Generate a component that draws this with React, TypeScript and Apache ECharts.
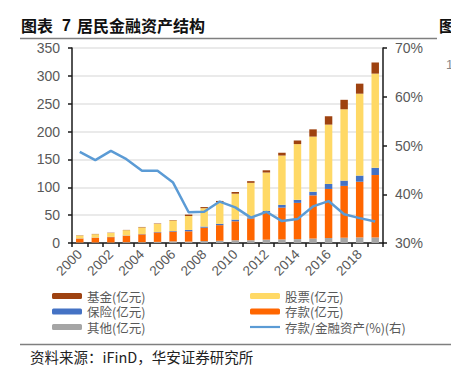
import React, { useEffect, useRef } from "react";
import * as echarts from "echarts";

const years = ["2000","2001","2002","2003","2004","2005","2006","2007","2008","2009","2010","2011","2012","2013","2014","2015","2016","2017","2018","2019"];
const other = [1, 1, 1, 1.5, 1.5, 2, 3, 2.5, 3.5, 4, 5, 5, 6, 6.5, 7, 8, 9, 9.5, 10, 10];
const deposit = [7, 8.5, 9.5, 11.5, 14, 17, 17.5, 18.5, 24, 28, 34, 39, 48.5, 57, 65, 77.5, 88, 93, 100, 112];
const insurance = [0.3, 0.3, 0.5, 0.5, 0.5, 0.8, 1, 2.5, 2, 2.5, 3, 2, 3, 5, 5.5, 6.5, 9, 9.5, 11, 13];
const stock = [5, 6, 7, 9.5, 12, 14.5, 19, 25, 33, 38.5, 46.5, 62, 69, 88.5, 100, 99, 106.5, 128, 147, 169];
const fund = [0.5, 0.5, 0.5, 0.5, 0.8, 0.7, 0.8, 2.5, 2, 2.5, 3, 3, 4, 5, 6.5, 13, 15, 17, 18, 20];
const depositRatio = [48.7, 47.0, 48.9, 47.2, 44.8, 44.8, 42.4, 36.3, 36.4, 38.5, 37.3, 35.2, 36.4, 34.5, 34.9, 37.5, 38.6, 35.9, 35.1, 34.4];
const leftTicks = { min: 0, max: 350, interval: 50 };
const rightTicks = { min: 30, max: 70, interval: 10 };

const CJK = "'Noto Sans CJK SC', sans-serif";
const SANS = "'Liberation Sans', Arial, sans-serif";
const LINE_ICON = "path://M0,0 L30,0 L30,2.2 L0,2.2 Z";

export default function App() {
  const ref = useRef<HTMLDivElement>(null);
  useEffect(() => {
    if (!ref.current) return;
    const chart = echarts.init(ref.current, null, { renderer: "svg" });
    const barBase = { type: "bar", stack: "total", barWidth: "48%", yAxisIndex: 0 };
    const legendText = { fontFamily: CJK, fontSize: 12.5, color: "#595959", lineHeight: 15 };
    chart.setOption({
      animation: false,
      backgroundColor: "#ffffff",
      textStyle: { fontFamily: SANS },
      grid: { left: 72, right: 68, top: 48, bottom: 123 },
      legend: [
        {
          orient: "vertical",
          left: 52,
          top: 288.5,
          padding: 0,
          itemWidth: 30,
          itemHeight: 6,
          itemGap: 0.5,
          textStyle: legendText,
          data: ["基金(亿元)", "保险(亿元)", "其他(亿元)"],
        },
        {
          orient: "vertical",
          left: 250,
          top: 288.5,
          padding: 0,
          itemWidth: 30,
          itemHeight: 6,
          itemGap: 0.5,
          textStyle: legendText,
          data: ["股票(亿元)", "存款(亿元)", { name: "存款/金融资产(%)(右)", icon: LINE_ICON }],
        },
      ],
      xAxis: {
        type: "category",
        data: years,
        boundaryGap: true,
        axisLine: { lineStyle: { color: "#1a1a1a", width: 1.5 } },
        axisTick: { show: true, interval: 0, length: 4, lineStyle: { color: "#1a1a1a", width: 1.5 } },
        axisLabel: { interval: 1, rotate: 45, fontSize: 13.5, color: "#595959", margin: 9, fontFamily: SANS },
      },
      yAxis: [
        {
          type: "value",
          ...leftTicks,
          axisLine: { show: true, lineStyle: { color: "#1a1a1a", width: 1.5 } },
          axisTick: { show: true, length: 4, lineStyle: { color: "#1a1a1a", width: 1.5 } },
          axisLabel: { fontSize: 14, color: "#595959", margin: 12, fontFamily: SANS },
          splitLine: { show: true, lineStyle: { color: "#e3e3e3", width: 1.5 } },
        },
        {
          type: "value",
          ...rightTicks,
          position: "right",
          axisLine: { show: true, lineStyle: { color: "#1a1a1a", width: 1.5 } },
          axisTick: { show: true, length: 4, lineStyle: { color: "#1a1a1a", width: 1.5 } },
          axisLabel: { fontSize: 14, color: "#595959", margin: 12, formatter: "{value}%", fontFamily: SANS },
          splitLine: { show: false },
        },
      ],
      series: [
        { ...barBase, name: "其他(亿元)", data: other, itemStyle: { color: "#a5a5a5" } },
        { ...barBase, name: "存款(亿元)", data: deposit, itemStyle: { color: "#ff6600" } },
        { ...barBase, name: "保险(亿元)", data: insurance, itemStyle: { color: "#4472c4" } },
        { ...barBase, name: "股票(亿元)", data: stock, itemStyle: { color: "#ffd966" } },
        { ...barBase, name: "基金(亿元)", data: fund, itemStyle: { color: "#9e4210" } },
        {
          type: "line",
          name: "存款/金融资产(%)(右)",
          yAxisIndex: 1,
          data: depositRatio,
          symbol: "none",
          showSymbol: false,
          lineStyle: { color: "#5b9bd5", width: 2.5 },
          itemStyle: { color: "#5b9bd5" },
          z: 5,
        },
      ],
      graphic: [
        { type: "text", left: 21, top: 17, style: { text: "图表", font: `bold 16px ${CJK}`, fill: "#111111" } },
        { type: "text", left: 62, top: 17, style: { text: "7", font: `bold 16px ${SANS}`, fill: "#111111" } },
        { type: "text", left: 77, top: 17, style: { text: "居民金融资产结构", font: `bold 16px ${CJK}`, fill: "#111111" } },
        { type: "text", left: 439, top: 17, style: { text: "图", font: `bold 16px ${CJK}`, fill: "#111111" } },
        { type: "text", left: 446, top: 58, style: { text: "1", font: `13px ${SANS}`, fill: "#888888" } },
        { type: "line", shape: { x1: 20, y1: 38.5, x2: 437, y2: 38.5 }, style: { stroke: "#7f7f7f", lineWidth: 1.5 } },
        { type: "line", shape: { x1: 20, y1: 344.5, x2: 451, y2: 344.5 }, style: { stroke: "#7f7f7f", lineWidth: 1.5 } },
        { type: "text", left: 30, top: 349, style: { text: "资料来源：iFinD，华安证券研究所", font: `14.5px ${CJK}`, fill: "#222222" } },
      ],
    });
    return () => chart.dispose();
  }, []);
  return <div ref={ref} style={{ width: 451, height: 366, position: "absolute", left: 0, top: 0 }} />;
}
